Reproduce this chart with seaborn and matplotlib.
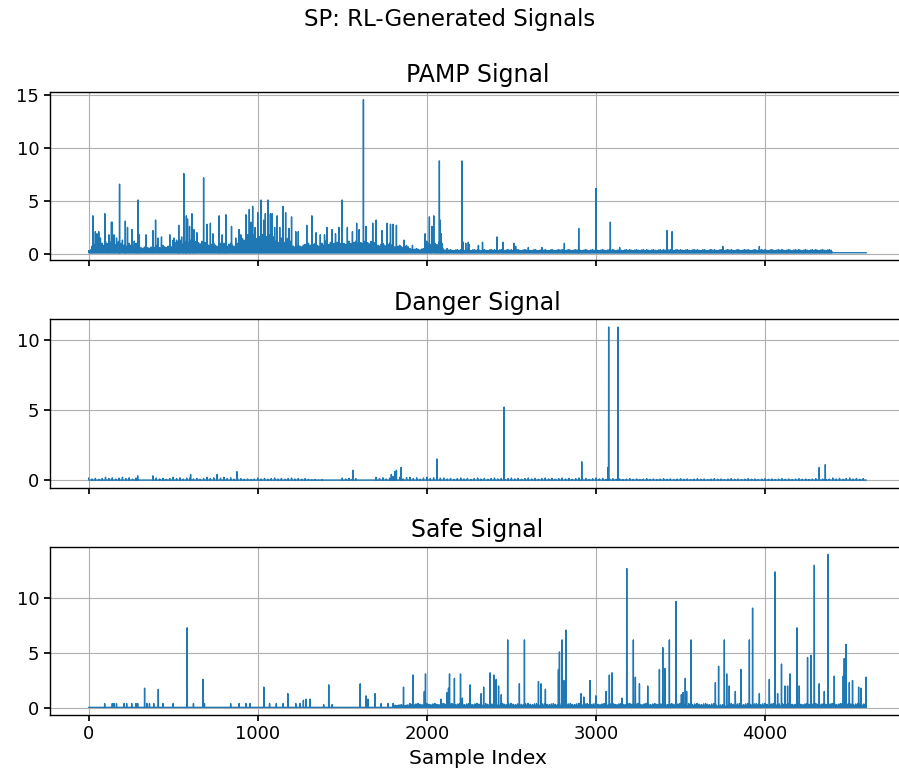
import numpy as np
import pandas as pd
import matplotlib
matplotlib.use("Agg")
import matplotlib.pyplot as plt
import seaborn as sns

N_SAMPLES = 4600
BLOCK = 100

# ---------------- PAMP signal ----------------
pamp_base = 0.1
pamp_level = [1.0, 1.2, 1.0, 0.7, 0.8, 1.3, 1.3, 1.0, 1.0, 1.8,
              2.0, 1.5, 0.9, 1.0, 1.2, 1.2, 1.3, 1.0, 0.8, 0.5,
              1.2, 0.4, 0.4, 0.4, 0.4, 0.4, 0.4, 0.4, 0.4, 0.4,
              0.4, 0.4, 0.4, 0.4, 0.4, 0.4, 0.4, 0.4, 0.4, 0.4,
              0.4, 0.4, 0.4, 0.4, 0.1, 0.1]
pamp_spike_idx = [0, 5, 10, 25, 40, 50, 60, 70, 96, 120, 135, 140, 150, 165, 183, 200,
                  217, 230, 256, 270, 293, 300, 340, 380, 396, 410, 431, 480, 505,
                  520, 533, 550, 563, 578, 585, 597, 611, 622, 640, 680, 700, 720,
                  735, 772, 790, 812, 845, 870, 890, 930, 950, 960, 970, 985, 1000,
                  1020, 1035, 1045, 1060, 1075, 1085, 1100, 1115, 1130, 1150, 1165,
                  1185, 1200, 1225, 1240, 1290, 1320, 1345, 1370, 1395, 1410, 1440,
                  1460, 1480, 1499, 1530, 1560, 1585, 1600, 1625, 1640, 1680, 1700,
                  1735, 1765, 1785, 1800, 1820, 1865, 1915, 1990, 2015, 2030, 2036,
                  2041, 2074, 2078, 2085, 2120, 2208, 2215, 2230, 2245, 2250, 2305,
                  2329, 2415, 2450, 2515, 2525, 2600, 2680, 2813, 2898, 3000, 3085,
                  3140, 3420, 3450, 3750, 3966]
pamp_spike_val = [0.3, 0.3, 0.3, 3.6, 2.1, 1.9, 2.1, 1.5, 3.8, 1.8, 3.0, 3.0, 1.8, 1.5, 6.6, 1.3,
                  3.1, 2.5, 2.3, 1.2, 5.1, 1.8, 1.8, 2.2, 3.2, 1.5, 1.6, 1.8, 1.5,
                  1.3, 2.7, 1.6, 7.6, 3.6, 3.3, 2.6, 3.8, 2.3, 2.0, 7.2, 2.8, 2.9,
                  1.9, 3.6, 1.8, 3.7, 2.6, 1.5, 2.3, 3.7, 4.2, 3.0, 4.5, 2.5, 3.9,
                  5.1, 3.2, 3.8, 5.1, 3.8, 3.8, 2.5, 3.6, 2.5, 4.5, 3.9,
                  2.4, 3.5, 2.1, 2.1, 2.7, 3.6, 2.0, 1.8, 1.8, 2.5, 2.3,
                  1.9, 2.5, 5.1, 2.5, 2.1, 2.9, 2.3, 14.6, 2.6, 2.9, 3.2,
                  2.2, 2.9, 2.8, 2.8, 2.7, 1.3, 0.8, 1.9, 3.5, 2.6, 2.5,
                  3.6, 8.8, 3.2, 1.9, 0.5, 8.8, 1.1, 1.0, 1.1, 0.9, 0.8,
                  1.1, 1.6, 1.1, 1.0, 0.7, 0.6, 0.6, 1.0, 2.4, 6.2, 3.0,
                  0.6, 2.2, 2.1, 0.7, 0.7]

# ---------------- Danger signal ----------------
danger_base = 0.0
danger_level = [0.15, 0.2, 0.2, 0.0, 0.15, 0.2, 0.15, 0.2, 0.2, 0.1,
                0.15, 0.15, 0.15, 0.05, 0.0, 0.15, 0.0, 0.2, 0.25, 0.2,
                0.2, 0.15, 0.15, 0.15, 0.15, 0.15, 0.15, 0.15, 0.15, 0.15,
                0.15, 0.1, 0.1, 0.1, 0.1, 0.1, 0.1, 0.1, 0.1, 0.1,
                0.1, 0.1, 0.1, 0.1, 0.15, 0.15]
danger_spike_idx = [290, 380, 603, 760, 877, 1562, 1790, 1810, 1820, 1848, 2059,
                    2457, 2916, 3070, 3075, 3131, 4320, 4356]
danger_spike_val = [0.3, 0.3, 0.4, 0.4, 0.6, 0.7, 0.4, 0.6, 0.7, 0.9, 1.5,
                    5.2, 1.3, 0.9, 10.9, 10.9, 0.9, 1.1]

# ---------------- Safe signal ----------------
safe_base = 0.05
safe_level = [0.05] * 18 + [0.3] + [0.4] * 18 + [0.3] + [0.4] * 8
safe_spike_idx = [95, 140, 150, 165, 210, 225, 255, 280, 290, 331, 345, 360, 385,
                  412, 440, 500, 583, 620, 676, 685, 840, 890, 930, 955, 1036,
                  1070, 1110, 1150, 1178, 1225, 1250, 1270, 1285, 1310, 1390, 1420,
                  1440, 1606, 1640, 1652, 1694, 1730, 1770, 1800, 1862, 1917, 1985,
                  1992, 2084, 2120, 2128, 2134, 2163, 2199, 2210, 2256, 2321, 2336,
                  2374, 2396, 2410, 2424, 2440, 2478, 2547, 2577, 2660, 2675, 2701,
                  2778, 2784, 2800, 2810, 2823, 2912, 2928, 2965, 2999, 3059, 3079,
                  3095, 3154, 3182, 3221, 3233, 3257, 3306, 3375, 3395, 3407, 3434,
                  3473, 3505, 3515, 3528, 3536, 3562, 3706, 3725, 3759, 3773, 3788,
                  3824, 3857, 3907, 3926, 3966, 4025, 4058, 4074, 4097, 4117, 4133,
                  4147, 4188, 4202, 4251, 4271, 4291, 4320, 4350, 4373, 4409, 4462,
                  4468, 4478, 4498, 4517, 4553, 4567, 4596]
safe_spike_val = [0.4, 0.4, 0.4, 0.4, 0.4, 0.4, 0.4, 0.4, 0.4, 1.8, 0.4, 0.4, 0.4,
                  1.7, 0.4, 0.4, 7.3, 0.4, 2.6, 0.4, 0.4, 0.4, 0.4, 0.4, 1.9,
                  0.4, 0.4, 0.4, 1.3, 0.4, 0.4, 0.7, 0.8, 0.8, 0.3, 2.1,
                  0.3, 2.2, 1.1, 0.8, 1.3, 0.4, 0.4, 0.4, 1.9, 3.0, 1.5,
                  3.1, 0.8, 1.4, 1.8, 3.1, 2.7, 3.1, 0.9, 2.1, 1.3, 1.9,
                  3.2, 3.0, 2.6, 2.0, 1.2, 6.2, 2.2, 6.2, 2.4, 2.2, 1.7,
                  3.5, 5.1, 6.2, 2.5, 7.1, 1.3, 1.0, 2.5, 1.1, 1.5, 3.0,
                  3.2, 0.9, 12.7, 6.2, 2.8, 2.2, 2.0, 3.5, 5.5, 3.6, 6.2,
                  9.7, 1.2, 1.4, 2.7, 1.5, 6.2, 2.3, 3.8, 6.2, 3.1, 2.0,
                  1.5, 3.5, 6.2, 9.1, 1.3, 2.6, 12.4, 1.3, 4.0, 2.0, 2.0,
                  3.1, 7.3, 2.0, 4.6, 4.8, 13.0, 2.2, 1.5, 14.0, 2.9, 2.9,
                  4.5, 5.8, 2.3, 2.5, 1.9, 1.8, 2.8]

# relative heights cycled within each block (texture of the dense band)
texture = [1.0, 0.55, 0.8, 0.35, 0.7, 0.45, 0.9, 0.3]

titles = ["PAMP Signal", "Danger Signal", "Safe Signal"]
suptitle = "SP: RL-Generated Signals"
xlabel = "Sample Index"


def build(base, level, spike_idx, spike_val, step):
    s = np.full(N_SAMPLES, base, dtype=float)
    tex = np.array(texture)
    for b, lv in enumerate(level):
        pos = np.arange(b * BLOCK, min((b + 1) * BLOCK, N_SAMPLES), step)
        vals = base + (lv - base) * tex[np.arange(len(pos)) % len(tex)]
        s[pos] = np.maximum(vals, base)
    s[np.array(spike_idx)] = np.array(spike_val)
    return s


sample = np.arange(N_SAMPLES)
series = [
    build(pamp_base, pamp_level, pamp_spike_idx, pamp_spike_val, 5),
    build(danger_base, danger_level, danger_spike_idx, danger_spike_val, 20),
    build(safe_base, safe_level, safe_spike_idx, safe_spike_val, 6),
]

sns.set_theme(style="ticks", rc={
    "axes.edgecolor": "black",
    "axes.linewidth": 1.0,
    "grid.color": "#b0b0b0",
    "grid.linewidth": 0.8,
    "xtick.color": "black",
    "ytick.color": "black",
    "text.color": "black",
    "axes.labelcolor": "black",
})
plt.rcParams["font.family"] = ["DejaVu Sans"]

fig, axes = plt.subplots(3, 1, figsize=(8.99, 7.8), dpi=100, sharex=True)
fig.subplots_adjust(left=0.0553, right=1.007, top=0.882, bottom=0.0833, hspace=0.35)

for ax, s, t in zip(axes, series, titles):
    df = pd.DataFrame({"Sample Index": sample, "value": s})
    sns.lineplot(data=df, x="Sample Index", y="value", ax=ax,
                 color="#1f77b4", linewidth=1.0)
    ax.set_title(t, fontsize=17, pad=7)
    ax.set_ylabel("")
    ax.set_xlabel("")
    ax.grid(True)
    ax.tick_params(labelsize=13, length=4)
    ax.margins(x=0.05, y=0.05)

axes[2].set_xlabel(xlabel, fontsize=14.5)
axes[2].set_xticks([0, 1000, 2000, 3000, 4000])
axes[0].set_yticks([0, 5, 10, 15])
axes[1].set_yticks([0, 5, 10])
axes[2].set_yticks([0, 5, 10])
fig.suptitle(suptitle, fontsize=16.5, y=0.99)

fig.savefig("out.png", dpi=100)
